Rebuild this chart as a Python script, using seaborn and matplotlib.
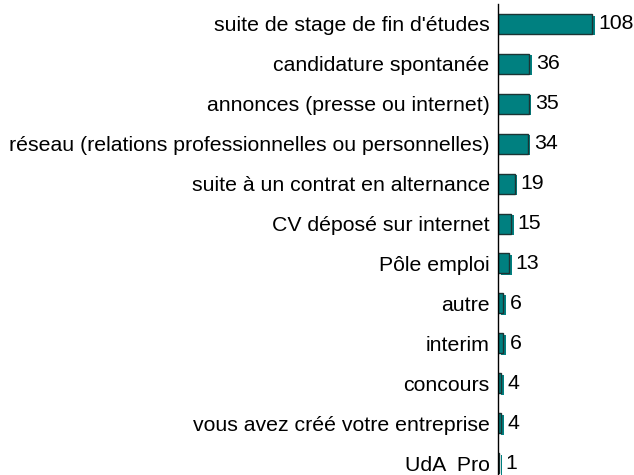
import matplotlib
matplotlib.use("Agg")
import matplotlib.pyplot as plt
import matplotlib.patheffects as pe
import seaborn as sns
import pandas as pd

categories = [
    "suite de stage de fin d'études",
    "candidature spontanée",
    "annonces (presse ou internet)",
    "réseau (relations professionnelles ou personnelles)",
    "suite à un contrat en alternance",
    "CV déposé sur internet",
    "Pôle emploi",
    "autre",
    "interim",
    "concours",
    "vous avez créé votre entreprise",
    "UdA  Pro",
]
values = [108, 36, 35, 34, 19, 15, 13, 6, 6, 4, 4, 1]

df = pd.DataFrame({"cat": categories, "val": values})

sns.set_style("white")
plt.rcParams["font.family"] = ["Liberation Sans", "DejaVu Sans"]
FS = 15.3

fig = plt.figure(figsize=(6.34, 4.75), dpi=100)
ax = fig.add_axes([498 / 634, 0, 136 / 634, 471 / 475])

sns.barplot(data=df, x="val", y="cat", orient="h", color="#008080",
            width=0.5, edgecolor="#1c3434", linewidth=1.0, saturation=1, ax=ax)
for p in ax.patches:
    p.set_path_effects([pe.SimplePatchShadow(offset=(2, -1.1), shadow_rgbFace="#008080",
                                             alpha=1.0, foreground="#008080"),
                        pe.Normal()])

for i, v in enumerate(values):
    ax.annotate(str(v), xy=(v, i), xytext=(4.5, 0), textcoords="offset points",
                va="center", ha="left", fontsize=FS, color="black")

ax.set_xlim(0, 156)
ax.set_ylim(11.3, -0.5)
ax.set_xlabel("")
ax.set_ylabel("")
ax.set_xticks([])
ax.tick_params(axis="y", length=0, pad=6, labelsize=FS, colors="black")
for s in ["top", "right", "bottom"]:
    ax.spines[s].set_visible(False)
ax.spines["left"].set_color("black")
ax.spines["left"].set_linewidth(1.0)

fig.savefig("out.png", dpi=100)
